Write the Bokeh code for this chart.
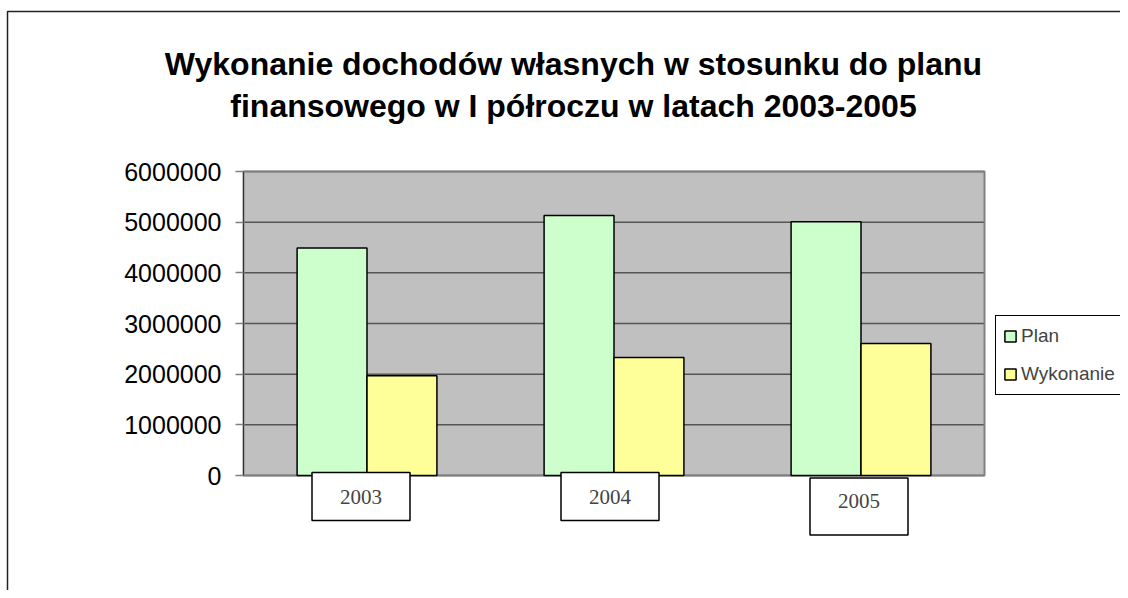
from bokeh.plotting import figure
from bokeh.models import (Range1d, FixedTicker, Label, Legend, LegendItem,
                          BoxAnnotation, ColumnDataSource)
from bokeh.embed import file_html
from bokeh.resources import INLINE

years = ["2003", "2004", "2005"]
plan = [4490000, 5130000, 5010000]
wykonanie = [1970000, 2330000, 2605000]
y_ticks = [0, 1000000, 2000000, 3000000, 4000000, 5000000, 6000000]
y_tick_labels = ["0", "1000000", "2000000", "3000000", "4000000", "5000000", "6000000"]
title_lines = ["Wykonanie dochodów własnych w stosunku do planu",
               "finansowego w I półroczu w latach 2003-2005"]
series_names = ["Plan", "Wykonanie"]

# ---- layout (canvas pixels) ----
W, H = 1120, 590
AREA_L, AREA_R, AREA_T, AREA_B = 243, 984, 171, 475   # grey plot area
YMAX = y_ticks[-1]
n = len(years)
px_per_cat = (AREA_R - AREA_L) / n
px_per_val = (AREA_B - AREA_T) / YMAX


def xd(px):
    return (px - AREA_L) / px_per_cat


def yd(py):
    return (AREA_B - py) / px_per_val


p = figure(width=W, height=H, output_backend="svg", toolbar_location=None,
           x_range=Range1d(xd(0), xd(W)), y_range=Range1d(yd(H), yd(0)),
           x_axis_location=None,
           min_border_left=0, min_border_right=0, min_border_top=0, min_border_bottom=0)
p.background_fill_color = "white"
p.border_fill_color = "white"
p.outline_line_color = None
p.xgrid.visible = False
p.ygrid.visible = False

centers = [i + 0.5 for i in range(n)]
bw = 0.283
src = ColumnDataSource(dict(
    year=years, xc=centers,
    xp=[c - bw / 2 for c in centers], xw=[c + bw / 2 for c in centers],
    plan=plan, wyk=wykonanie))

# grey plot area
p.quad(left=[0], right=[n], bottom=[0], top=[YMAX], fill_color="#c0c0c0",
       line_color=None)
# gridlines
p.segment(x0=[0] * len(y_ticks), x1=[n] * len(y_ticks), y0=y_ticks, y1=y_ticks,
          line_color="#555555", line_width=1.5)
# plot-area border
p.quad(left=[0], right=[n], bottom=[0], top=[YMAX], fill_color=None,
       line_color="#808080", line_width=2)

r_plan = p.vbar(x="xp", top="plan", width=bw, source=src,
                fill_color="#ccffcc", line_color="black", line_width=1.5)
r_wyk = p.vbar(x="xw", top="wyk", width=bw, source=src,
               fill_color="#ffff99", line_color="black", line_width=1.5)

# y axis placed at the left edge of the plot area
ax = p.yaxis[0]
ax.fixed_location = 0
ax.ticker = FixedTicker(ticks=y_ticks)
ax.bounds = (0, YMAX)
ax.major_label_overrides = {t: l for t, l in zip(y_ticks, y_tick_labels)}
ax.minor_tick_line_color = None
ax.major_tick_in = 0
ax.major_tick_out = 8
ax.major_tick_line_color = "#808080"
ax.major_tick_line_width = 1.5
ax.axis_line_color = "#333333"
ax.axis_line_width = 1
ax.major_label_text_font = "Liberation Sans"
ax.major_label_text_font_size = "25px"
ax.major_label_text_color = "black"
ax.major_label_standoff = 14

# category labels in boxes
x_offs = [-6, -4, -2]
y_pos = [496, 496, 506]
pads = [(28, 28, 17, 17), (28, 28, 17, 17), (28, 28, 16, 27)]  # left, right, top, bottom
for c, yr, xo, yp, pad in zip(centers, years, x_offs, y_pos, pads):
    p.add_layout(Label(x=c, y=yd(yp), text=yr, x_offset=xo,
                       text_font="Liberation Serif", text_font_size="21px",
                       text_align="center", text_baseline="middle",
                       background_fill_color="white",
                       border_line_color="black", border_line_width=1.5,
                       border_line_alpha=1.0, padding=pad))

# title
for i, line in enumerate(title_lines):
    p.add_layout(Label(x=xd(573), y=yd(63 + 42 * i), text=line,
                       text_font="Liberation Sans", text_font_style="bold",
                       text_font_size="32px", text_align="center",
                       text_baseline="alphabetic", text_color="black"))

# chart border
p.add_layout(BoxAnnotation(left=xd(7), right=xd(W + 50), top=yd(11),
                           bottom=yd(H + 50), fill_alpha=0,
                           line_color="#222222", line_alpha=1.0, line_width=1.5))

legend = Legend(items=[LegendItem(label=series_names[0], renderers=[r_plan]),
                       LegendItem(label=series_names[1], renderers=[r_wyk])],
                location=(995, H - 395), orientation="vertical",
                border_line_color="black", border_line_width=1, border_line_alpha=1.0,
                background_fill_color="white", background_fill_alpha=1,
                label_text_font="Liberation Sans", label_text_font_size="19px",
                glyph_width=14, glyph_height=14, label_standoff=4,
                padding=7, spacing=12, label_height=26, margin=0)
p.add_layout(legend, "center")

open("out.html", "w").write(file_html(p, INLINE))
